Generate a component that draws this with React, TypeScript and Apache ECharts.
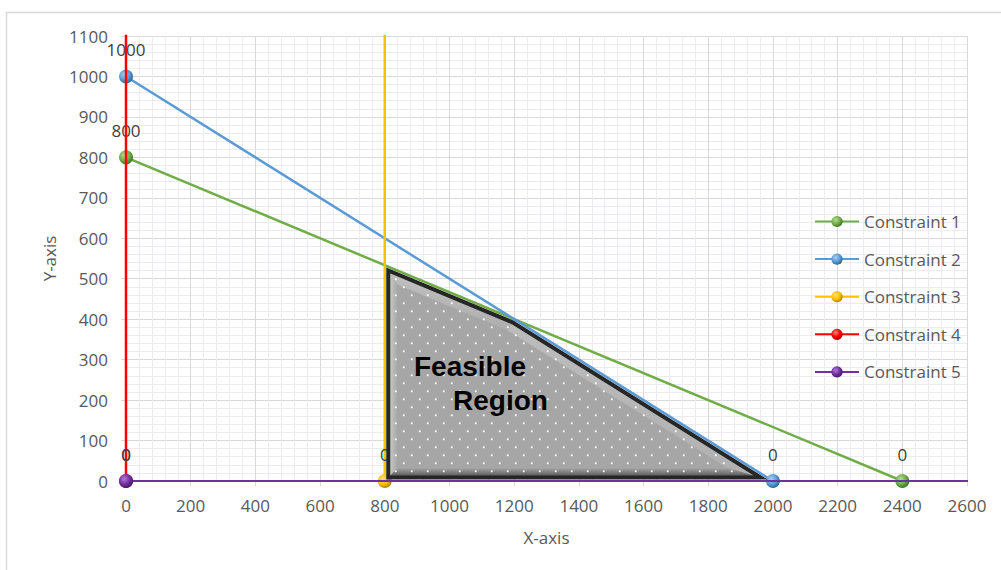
import React, { useEffect, useRef } from "react";
import * as echarts from "echarts";

// Constraint lines (x, y) — end points that lie beyond the axes are clipped
const seriesNames = ["Constraint 1", "Constraint 2", "Constraint 3", "Constraint 4", "Constraint 5"];
const constraint1 = [[0, 800], [2400, 0]];
const constraint2 = [[0, 1000], [2000, 0]];
const constraint3 = [[800, 0], [800, 1200]];
const constraint4 = [[0, 0], [0, 1200]];
const constraint5 = [[0, 0], [2800, 0]];

// Corner points of the feasible region
const feasibleRegion = [[800, 0], [800, 533.33], [1200, 400], [2000, 0]];
const regionTitle = ["Feasible", "Region"];

// Axis ranges
const xMin = 0;
const xMax = 2600;
const xStep = 200;
const yMin = 0;
const yMax = 1100;
const yStep = 100;

const palette = [
  { base: "#70AD47", light: "#b4dc98", dark: "#40662a" },
  { base: "#5B9BD5", light: "#a8cdef", dark: "#2f5f8c" },
  { base: "#FFC000", light: "#ffe07a", dark: "#a67c00" },
  { base: "#FF0000", light: "#ff8080", dark: "#a00000" },
  { base: "#7030A0", light: "#b07ad6", dark: "#401a5e" },
];
const lineWidths = [2.5, 2.5, 2.5, 2.5, 2];

const FONT = "'Open Sans', 'Noto Sans', sans-serif";

type Pt = number[];

function orientation(pts: Pt[]): number {
  let area = 0;
  for (let i = 0; i < pts.length; i++) {
    const a = pts[i];
    const b = pts[(i + 1) % pts.length];
    area += a[0] * b[1] - b[0] * a[1];
  }
  return area > 0 ? 1 : -1;
}

function inwardNormals(pts: Pt[]): Pt[] {
  const sign = orientation(pts);
  return pts.map((a, i) => {
    const b = pts[(i + 1) % pts.length];
    const len = Math.hypot(b[0] - a[0], b[1] - a[1]) || 1;
    return [(sign * -(b[1] - a[1])) / len, (sign * (b[0] - a[0])) / len];
  });
}

// Shrinks a convex polygon by moving every edge d pixels inward
function insetPolygon(pts: Pt[], d: number): Pt[] {
  const n = pts.length;
  const normals = inwardNormals(pts);
  const lines = pts.map((a, i) => {
    const b = pts[(i + 1) % n];
    const len = Math.hypot(b[0] - a[0], b[1] - a[1]) || 1;
    return {
      p: [a[0] + normals[i][0] * d, a[1] + normals[i][1] * d],
      dir: [(b[0] - a[0]) / len, (b[1] - a[1]) / len],
    };
  });
  return pts.map((_, i) => {
    const l1 = lines[(i - 1 + n) % n];
    const l2 = lines[i];
    const cross = l1.dir[0] * l2.dir[1] - l1.dir[1] * l2.dir[0];
    const qx = l2.p[0] - l1.p[0];
    const qy = l2.p[1] - l1.p[1];
    const t = (qx * l2.dir[1] - qy * l2.dir[0]) / cross;
    return [l1.p[0] + l1.dir[0] * t, l1.p[1] + l1.dir[1] * t];
  });
}

function insideConvex(pts: Pt[], x: number, y: number): boolean {
  let pos = 0;
  let neg = 0;
  for (let i = 0; i < pts.length; i++) {
    const a = pts[i];
    const b = pts[(i + 1) % pts.length];
    const c = (b[0] - a[0]) * (y - a[1]) - (b[1] - a[1]) * (x - a[0]);
    if (c > 0) pos++;
    else if (c < 0) neg++;
  }
  return pos === 0 || neg === 0;
}

function sphere(c: { base: string; light: string; dark: string }) {
  return {
    type: "radial",
    x: 0.38,
    y: 0.35,
    r: 0.7,
    colorStops: [
      { offset: 0, color: c.light },
      { offset: 0.55, color: c.base },
      { offset: 1, color: c.dark },
    ],
  };
}

function renderRegion(params: any, api: any) {
  if (params.dataIndex !== 0) return { type: "group", children: [] };
  const pts: Pt[] = feasibleRegion.map((p) => api.coord(p));
  const fillPoly = insetPolygon(pts, 2);
  const bevelOuter = insetPolygon(pts, 5);
  const bevelInner = insetPolygon(pts, 13);
  const dotPoly = insetPolygon(pts, 8);
  const borderPoly = insetPolygon(pts, 3.5);
  const normals = inwardNormals(pts);
  const base = "#a6a6a6";

  const children: any[] = [
    { type: "polygon", shape: { points: fillPoly }, style: { fill: base } },
  ];

  // bevel bands along each edge, shaded from the edge towards the inside
  const n = pts.length;
  for (let i = 0; i < n; i++) {
    const j = (i + 1) % n;
    const [nx, ny] = normals[i];
    const bottom = ny < -0.5;
    children.push({
      type: "polygon",
      shape: { points: [bevelOuter[i], bevelOuter[j], bevelInner[j], bevelInner[i]] },
      style: {
        fill: new echarts.graphic.LinearGradient(
          0.5 - nx / 2,
          0.5 - ny / 2,
          0.5 + nx / 2,
          0.5 + ny / 2,
          bottom
            ? [
                { offset: 0, color: "#5a5a5a" },
                { offset: 1, color: base },
              ]
            : [
                { offset: 0, color: "#c8c8c8" },
                { offset: 1, color: base },
              ]
        ),
      },
    });
  }

  // dotted pattern
  let minX = Infinity, maxX = -Infinity, minY = Infinity, maxY = -Infinity;
  dotPoly.forEach((p) => {
    minX = Math.min(minX, p[0]);
    maxX = Math.max(maxX, p[0]);
    minY = Math.min(minY, p[1]);
    maxY = Math.max(maxY, p[1]);
  });
  const sx = 16;
  const sy = 8;
  let row = 0;
  for (let y = minY + 2; y <= maxY; y += sy, row++) {
    const off = row % 2 === 0 ? 0 : sx / 2;
    for (let x = minX + 3 + off; x <= maxX; x += sx) {
      if (insideConvex(dotPoly, x, y)) {
        children.push({
          type: "circle",
          shape: { cx: x, cy: y, r: 1.1 },
          style: { fill: "#ffffff", opacity: 0.9 },
        });
      }
    }
  }

  children.push({
    type: "polygon",
    shape: { points: borderPoly },
    style: { fill: "none", stroke: "#262626", lineWidth: 4, lineJoin: "miter" },
  });

  return { type: "group", children };
}

export default function App() {
  const ref = useRef<HTMLDivElement>(null);

  useEffect(() => {
    if (!ref.current) return;
    const chart = echarts.init(ref.current, undefined, { renderer: "svg" });
    const lineData = [constraint1, constraint2, constraint3, constraint4, constraint5];

    const lineSeries = lineData.map((d, i) => ({
      name: seriesNames[i],
      type: "line",
      data: d,
      clip: true,
      symbol: "circle",
      symbolSize: 14,
      showAllSymbol: true,
      z: 2 + i * 0.01,
      lineStyle: { color: palette[i].base, width: lineWidths[i] },
      itemStyle: { color: sphere(palette[i]), borderWidth: 0 },
      emphasis: { disabled: true },
      label: {
        show: true,
        position: "top",
        distance: 11,
        formatter: (p: any) => String(p.value[1]),
        color: "#404040",
        fontSize: 17,
        fontFamily: FONT,
      },
    }));

    const plain = (v: number) => String(v);

    chart.setOption({
      animation: false,
      backgroundColor: "#ffffff",
      grid: { left: 126, right: 34, top: 36, bottom: 89, containLabel: false },
      legend: {
        data: seriesNames,
        orient: "vertical",
        left: 809,
        top: 208,
        itemWidth: 44,
        itemHeight: 14,
        itemGap: 20.6,
        selectedMode: false,
        textStyle: { color: "#595959", fontSize: 17, fontFamily: FONT },
      },
      xAxis: {
        type: "value",
        min: xMin,
        max: xMax,
        interval: xStep,
        name: "X-axis",
        nameLocation: "middle",
        nameGap: 48,
        nameTextStyle: { color: "#595959", fontSize: 17, fontFamily: FONT },
        axisLine: { show: true, onZero: false, lineStyle: { color: "#d9d9d9", width: 1 } },
        axisTick: { show: true, length: 5, lineStyle: { color: "#d9d9d9" } },
        axisLabel: { color: "#595959", fontSize: 17, fontFamily: FONT, margin: 16, formatter: plain },
        splitLine: { show: true, lineStyle: { color: "#d9d9d9", width: 1 } },
        minorTick: { show: false, splitNumber: 5 },
        minorSplitLine: { show: true, lineStyle: { color: "#ebebf0", width: 1 } },
      },
      yAxis: {
        type: "value",
        min: yMin,
        max: yMax,
        interval: yStep,
        name: "Y-axis",
        nameLocation: "middle",
        nameGap: 68,
        nameTextStyle: { color: "#595959", fontSize: 17, fontFamily: FONT },
        axisLine: { show: true, onZero: false, lineStyle: { color: "#d9d9d9", width: 1 } },
        axisTick: { show: true, length: 5, lineStyle: { color: "#d9d9d9" } },
        axisLabel: { color: "#595959", fontSize: 17, fontFamily: FONT, margin: 18, formatter: plain },
        splitLine: { show: true, lineStyle: { color: "#d9d9d9", width: 1 } },
        minorTick: { show: false, splitNumber: 5 },
        minorSplitLine: { show: true, lineStyle: { color: "#ebebf0", width: 1 } },
      },
      graphic: [
        {
          type: "rect",
          z: 100,
          silent: true,
          shape: { x: 6.5, y: 12.5, width: 1100, height: 700 },
          style: { fill: "none", stroke: "#d9d9d9", lineWidth: 1.5 },
        },
        {
          type: "text",
          z: 100,
          x: 414,
          y: 366,
          style: {
            text: regionTitle[0],
            font: "bold 28px 'Liberation Sans', Arial, sans-serif",
            fill: "#000000",
            verticalAlign: "middle",
            align: "left",
          },
        },
        {
          type: "text",
          z: 100,
          x: 453,
          y: 400,
          style: {
            text: regionTitle[1],
            font: "bold 28px 'Liberation Sans', Arial, sans-serif",
            fill: "#000000",
            verticalAlign: "middle",
            align: "left",
          },
        },
      ],
      series: [
        ...lineSeries,
        {
          type: "custom",
          name: "Feasible Region",
          data: feasibleRegion,
          encode: { x: 0, y: 1 },
          z: 5,
          silent: true,
          renderItem: renderRegion,
        },
      ],
    });

    return () => chart.dispose();
  }, []);

  return (
    <div
      ref={ref}
      style={{ position: "fixed", left: 0, top: 0, width: 1001, height: 570, background: "#fff" }}
    />
  );
}
